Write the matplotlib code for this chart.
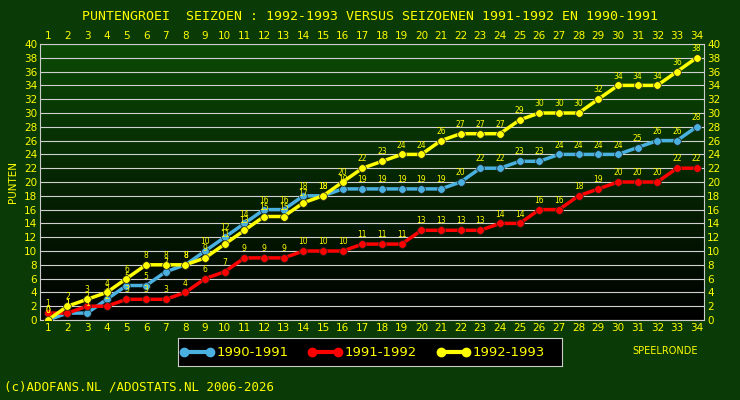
import numpy as np
import matplotlib.pyplot as plt

rondes = list(range(1, 35))
s9091 = [0,1,1,3,5,5,7,8,10,12,14,16,16,18,18,19,19,19,19,19,19,20,22,22,23,23,24,24,24,24,25,26,26,28]
s9192 = [1,1,2,2,3,3,3,4,6,7,9,9,9,10,10,10,11,11,11,13,13,13,13,14,14,16,16,18,19,20,20,20,22,22]
s9293 = [0,2,3,4,6,8,8,8,9,11,13,15,15,17,18,20,22,23,24,24,26,27,27,27,29,30,30,30,32,34,34,34,36,38]

fig = plt.figure(figsize=(7.4, 4.0), dpi=100)
fig.patch.set_facecolor('#0a3a05')
ax = fig.add_axes([0.054, 0.2, 0.898, 0.69])
# verloop achtergrond
grad = np.linspace(0, 1, 100).reshape(-1, 1)
ax.imshow(grad, extent=[0.6, 34.4, 0, 40], aspect='auto', origin='lower',
          cmap=plt.matplotlib.colors.LinearSegmentedColormap.from_list('g', ['#000000', '#0b4a05']), zorder=0)
for y in range(0, 41, 2):
    ax.axhline(y, color='#d0d0d0', lw=0.8, zorder=1)

for data, col in [(s9091, '#4ab0e0'), (s9192, '#ff0000'), (s9293, '#ffff00')]:
    ax.plot(rondes, data, color=col, lw=2.5, marker='o', ms=5.5, mec='#222222', mew=0.5, zorder=3)
    for x, v in zip(rondes, data):
        ax.text(x, v + 0.7, str(v), color='#ffff00', fontsize=5.5, ha='center', va='bottom', zorder=4)

ax.set_xlim(0.6, 34.4)
ax.set_ylim(0, 40)
ax.set_xticks(rondes)
ax.set_yticks(range(0, 41, 2))
ax.tick_params(colors='#ffff00', labelsize=7.5, length=0, pad=2,
               top=True, labeltop=True, right=True, labelright=True)
for s in ax.spines.values():
    s.set_color('#cccccc')
ax.set_ylabel('PUNTEN', color='#ffff00', fontsize=7.5)

fig.text(0.5, 0.975, 'PUNTENGROEI  SEIZOEN : 1992-1993 VERSUS SEIZOENEN 1991-1992 EN 1990-1991',
         color='#ffff00', fontsize=9.5, ha='center', va='top', family='DejaVu Sans Mono')
fig.text(0.855, 0.115, 'SPEELRONDE', color='#ffff00', fontsize=7, ha='left')
fig.text(0.005, 0.025, '(c)ADOFANS.NL /ADOSTATS.NL 2006-2026', color='#ffff00', fontsize=9,
         family='DejaVu Sans Mono')

lax = fig.add_axes([0.24, 0.085, 0.52, 0.07])
lax.set_facecolor('#000000')
lax.set_xticks([]); lax.set_yticks([])
for s in lax.spines.values():
    s.set_color('#cccccc')
lax.set_xlim(0, 3); lax.set_ylim(0, 1)
for i, (lab, col) in enumerate([('1990-1991', '#4ab0e0'), ('1991-1992', '#ff0000'), ('1992-1993', '#ffff00')]):
    lax.plot([i + 0.05, i + 0.25], [0.5, 0.5], color=col, lw=3, marker='o', ms=6, markevery=[0, 1])
    lax.text(i + 0.3, 0.5, lab, color='#ffff00', fontsize=9.5, va='center')

fig.savefig('out.png', dpi=100, facecolor=fig.get_facecolor())
